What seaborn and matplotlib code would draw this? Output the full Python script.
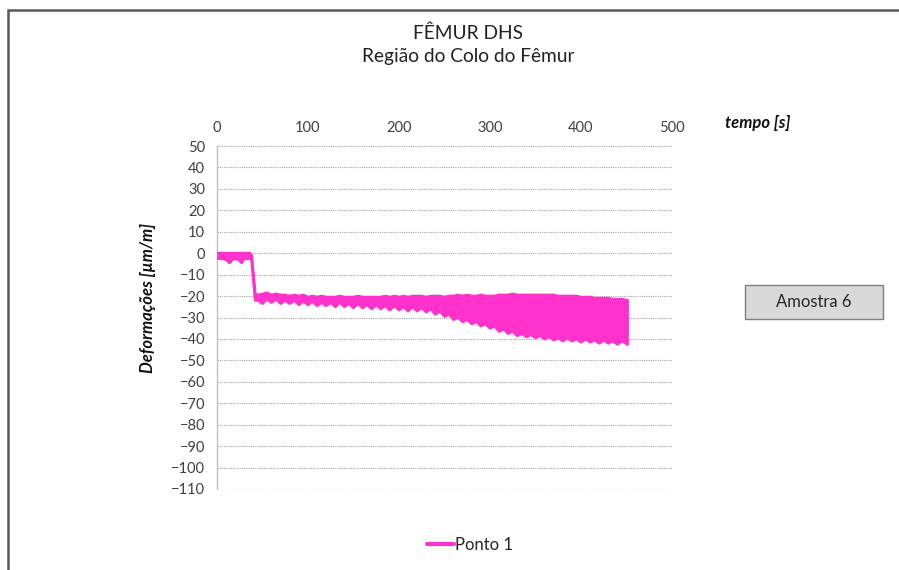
import matplotlib
matplotlib.use("Agg")
import matplotlib.pyplot as plt
import matplotlib.patches as mpatches
from matplotlib.lines import Line2D
import seaborn as sns
import pandas as pd

# Envelope of the strain signal (Ponto 1): time [s], upper and lower bounds [µm/m]
tempo = [0, 5, 10, 14, 18, 24, 27, 30, 36, 38, 40, 42,
         45, 50, 55, 60, 65, 70, 75, 80, 85, 90, 95, 100, 105, 110, 115, 120, 125, 130,
         135, 140, 145, 150, 155, 160, 165, 170, 175, 180, 185, 190, 195, 200, 205, 210,
         215, 220, 225, 230, 235, 240, 245, 250, 255, 260, 265, 270, 275, 280, 285, 290,
         295, 300, 305, 310, 315, 320, 325, 330, 335, 340, 345, 350, 355, 360, 365, 370,
         375, 380, 385, 390, 395, 400, 405, 410, 415, 420, 425, 430, 435, 440, 445, 451]
superior = [0, 0, 0, 0, 0, 0, 0, 0, 0, -1, -10, -19,
            -19.5, -19, -18.5, -19.5, -19, -19.5, -19.5, -20, -19.5, -20, -19.5, -20.5, -20, -20.5, -20, -20.5, -20.5, -20.5,
            -20, -20.5, -20.5, -20.5, -20, -20.5, -20.5, -20.5, -20.5, -20.5, -20, -20.5, -20, -20.5, -20, -20.5,
            -20, -20, -20, -20.5, -20, -20, -20, -20.5, -20, -20, -19.5, -20, -19.5, -20, -20, -19.5,
            -20, -20, -20, -19.5, -19.5, -19.5, -19, -19.5, -19.5, -19.5, -19.5, -19.5, -19.5, -19.5, -19.5, -19.5,
            -20, -20, -20, -20, -20, -20.5, -20.5, -20.5, -21, -21, -21, -21, -21.5, -21.5, -21.5, -22]
inferior = [-2.5, -2.5, -3, -4.5, -2.5, -3, -4.5, -2.5, -2.5, -3, -12, -22,
            -22, -23.5, -21.5, -23, -21.5, -23.5, -22, -23.5, -22, -24, -22.5, -24, -22.5, -24.5, -23, -24.5, -23, -25,
            -23, -25, -23.5, -25.5, -23.5, -25.5, -24, -26, -24, -26, -24.5, -26.5, -24.5, -26.5, -25, -27,
            -25, -27, -25.5, -27.5, -26, -28.5, -27, -29.5, -28.5, -31, -30, -32, -31, -33, -32, -34,
            -33, -35, -34, -36.5, -35.5, -37.5, -36.5, -38.5, -37.5, -39, -38, -39.5, -38.5, -40, -39, -40.5,
            -39.5, -41, -39.5, -41, -40, -41.5, -40, -41.5, -40.5, -42, -40.5, -42, -41, -42.5, -41, -42.5]

titulo = "FÊMUR DHS\nRegião do Colo do Fêmur"
serie = "Ponto 1"
amostra = "Amostra 6"
x_ticks = [0, 100, 200, 300, 400, 500]
y_ticks = list(range(-110, 51, 10))

rosa = "#FF33CC"

sns.set_theme(style="white")
plt.rcParams["font.family"] = ["Lato", "DejaVu Sans"]

df = pd.DataFrame({"tempo": tempo, "superior": superior, "inferior": inferior})

fig = plt.figure(figsize=(8.99, 5.70), dpi=100)
ax = fig.add_axes([217 / 899, 1 - 489 / 570, (672 - 217) / 899, (489 - 146) / 570])

ax.fill_between(df["tempo"], df["inferior"], df["superior"], color=rosa, linewidth=0, zorder=3)
for col in ["superior", "inferior"]:
    sns.lineplot(data=df, x="tempo", y=col, color=rosa, linewidth=2.0, ax=ax, zorder=3,
                 solid_capstyle="round", solid_joinstyle="round")
# closing edge at the end of the record
ax.plot([tempo[-1], tempo[-1]], [inferior[-1], superior[-1]], color=rosa, linewidth=2.0, zorder=3)

ax.set_xlim(0, 500)
ax.set_ylim(-110, 50)
ax.set_xticks(x_ticks)
ax.set_yticks(y_ticks)
ax.xaxis.tick_top()
ax.tick_params(axis="both", length=0, labelsize=10.5, colors="#404040")
ax.tick_params(axis="x", pad=8)
ax.tick_params(axis="y", pad=8.5)
ax.set_xlabel("")
ax.set_ylabel("")

for y in y_ticks:
    ax.axhline(y, color="#A6A6A6", linewidth=0.8, linestyle=(0, (1, 1)), zorder=1)

for s in ["top", "right", "bottom"]:
    ax.spines[s].set_visible(False)
ax.spines["left"].set_color("#BFBFBF")
ax.spines["left"].set_linewidth(1.0)

fig.text(468 / 899, 1 - 45 / 570, titulo, ha="center", va="center", fontsize=13.8,
         color="#222222", linespacing=1.45)
fig.text(758 / 899, 1 - 123 / 570, "tempo [s]", ha="center", va="center", fontsize=12,
         fontweight="bold", fontstyle="italic", color="#111111")
fig.text(148 / 899, 1 - 298 / 570, "Deformações [µm/m]", ha="center", va="center", fontsize=12,
         fontweight="bold", fontstyle="italic", rotation=90, color="#111111")

# sample tag box
box = mpatches.Rectangle((745 / 899, 1 - 319 / 570), 138 / 899, 34 / 570, transform=fig.transFigure,
                         facecolor="#D9D9D9", edgecolor="#7F7F7F", linewidth=1.0)
fig.patches.append(box)
fig.text(814 / 899, 1 - 302 / 570, amostra, ha="center", va="center", fontsize=12, color="#262626")

# outer chart frame
frame = mpatches.Rectangle((8 / 899, -0.2), 1.2, 1.2 - 10 / 570, transform=fig.transFigure,
                           facecolor="none", edgecolor="#595959", linewidth=1.8, clip_on=False)
fig.patches.append(frame)

handle = Line2D([], [], color=rosa, linewidth=3)
fig.legend([handle], [serie], loc="center", bbox_to_anchor=(470 / 899, 1 - 545 / 570),
           frameon=False, fontsize=12, handlelength=1.6, handletextpad=0.1,
           labelcolor="#262626")

fig.savefig("out.png", dpi=100)
